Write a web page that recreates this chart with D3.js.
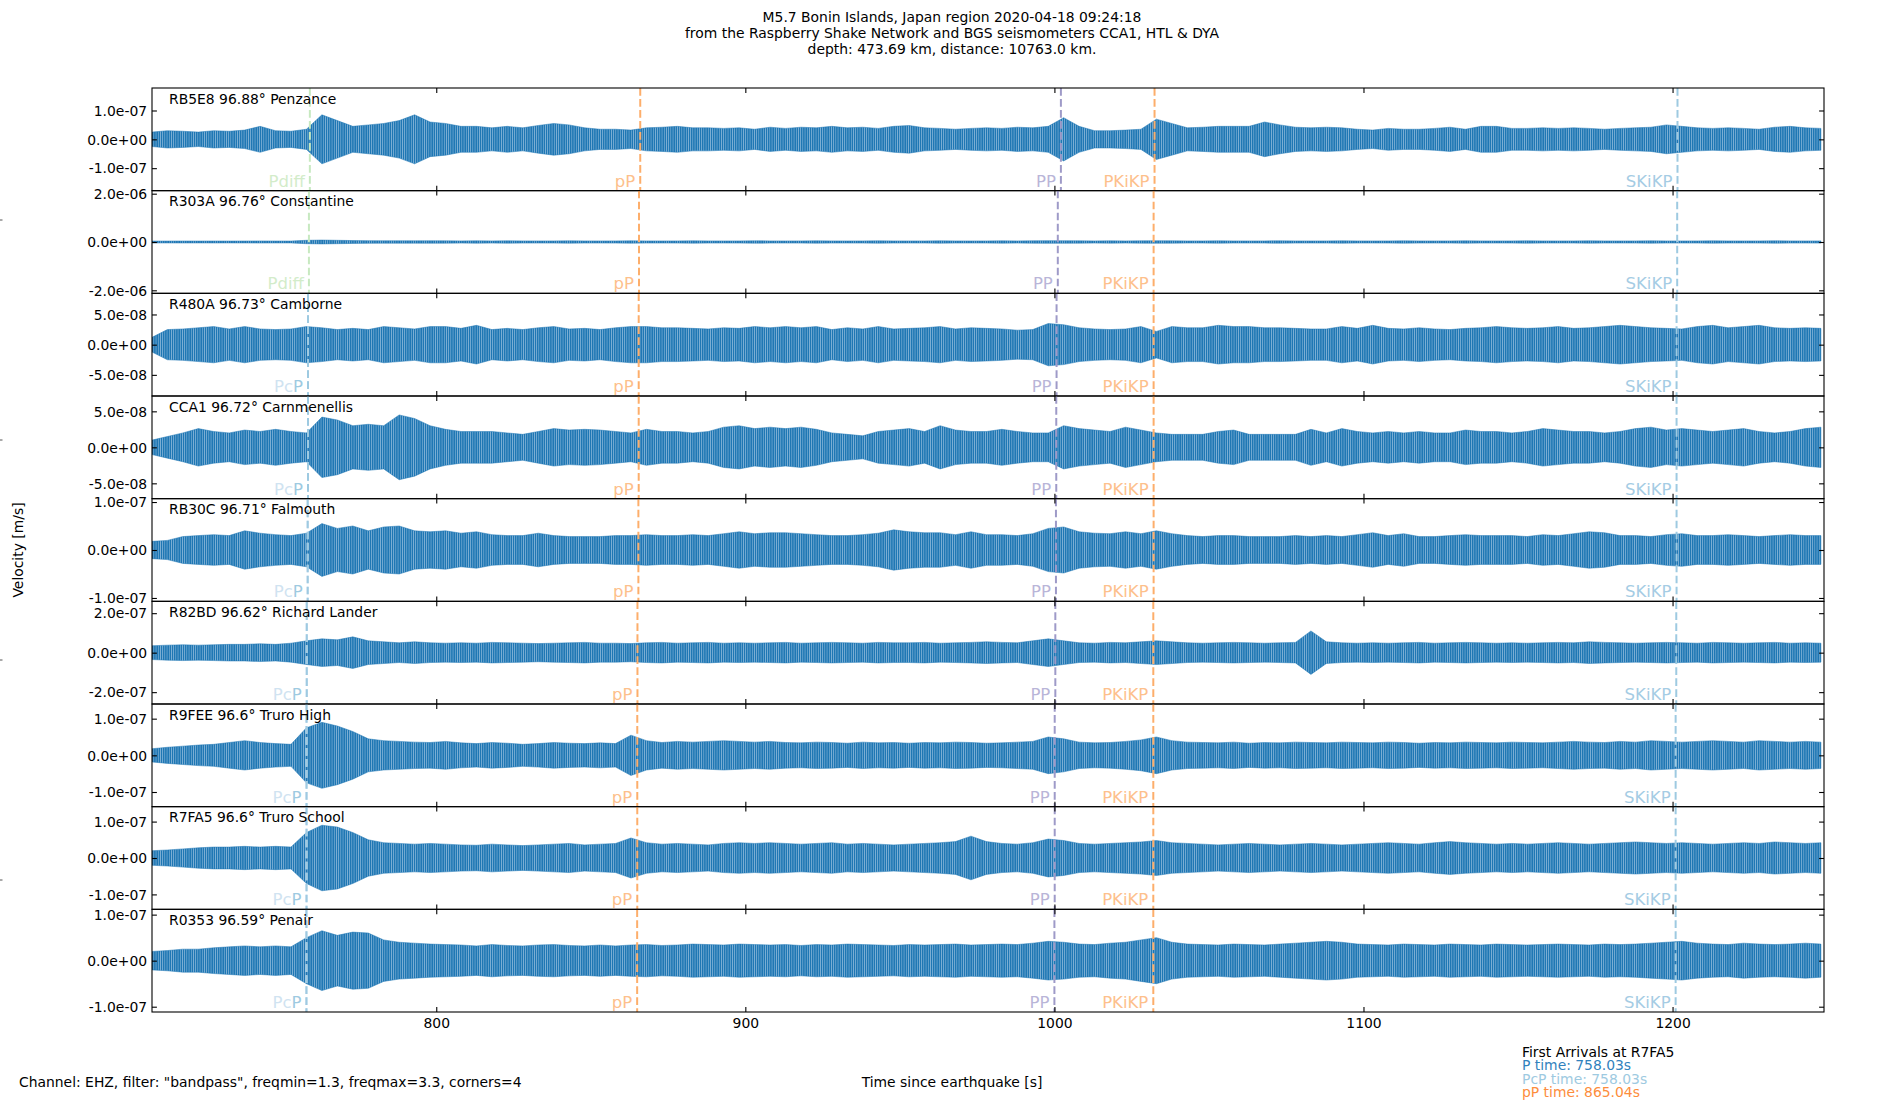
<!DOCTYPE html>
<html>
<head>
<meta charset="utf-8">
<script src="https://cdn.jsdelivr.net/npm/d3@7"></script>
<style>
  body { margin: 0; background: #fff; }
  svg text { font-family: "DejaVu Sans", sans-serif; }
</style>
</head>
<body>
<svg id="chart"></svg>
<script>
const WIDTH = 1900;
const HEIGHT = 1100;
const MARGIN = { left: 152, right: 76, top: 88, bottom: 88 };
const WAVE_COLOR = '#1f77b4';
const TICK = 4.9;

// Time axis (s since origin) and envelope sampling of the traces
const X_RANGE = [708.03, 1249.0];
const X_TICKS = [800, 900, 1000, 1100, 1200];
const ENV_START = 708;
const ENV_STEP = 5;

const stations = ['RB5E8', 'R303A', 'R480A', 'CCA1', 'RB30C', 'R82BD', 'R9FEE', 'R7FA5', 'R0353'];
const distances = ['96.88', '96.76', '96.73', '96.72', '96.71', '96.62', '96.6', '96.6', '96.59'];
const places = ['Penzance', 'Constantine', 'Camborne', 'Carnmenellis', 'Falmouth', 'Richard Lander', 'Truro High', 'Truro School', 'Penair'];

// y limits (m/s, symmetric) and y ticks per trace
const yLimits = [1.78e-7, 2.125e-6, 8.5e-8, 7.13e-8, 1.07e-7, 2.6e-7, 1.4e-7, 1.41e-7, 1.115e-7];
const yTicks = [
  [-1e-7, 0, 1e-7], [-2e-6, 0, 2e-6], [-5e-8, 0, 5e-8], [-5e-8, 0, 5e-8], [-1e-7, 0, 1e-7],
  [-2e-7, 0, 2e-7], [-1e-7, 0, 1e-7], [-1e-7, 0, 1e-7], [-1e-7, 0, 1e-7]
];

// Peak amplitude envelope of each trace, nm/s, one value per 5 s from 708 s
const envRB5E8 = [25,30,28,25,30,28,32,45,30,28, 35,85,65,45,50,55,65,85,60,55, 45,45,40,45,40,48,55,50,40,35,
  35,32,40,42,45,40,40,38,40,35, 42,38,42,40,45,40,42,38,45,48, 40,38,35,38,40,38,42,40,
  45,75,45,30,30,32,35,70,55,40, 42,45,45,45,60,50,42,40,42,40,35, 32,38,35,35,38,42,35,45,45,38,
  38,40,38,40,38,35,38,40,42,50, 45,40,38,40,38,35,42,45,40,38];
const envR303A = [40,40,42,40,42,40,42,44,42,40, 70,80,70,60,55,50,50,48,50,48, 46,48,46,48,46,45,46,48,46,45,
  46,48,46,45,46,48,46,45,46,48, 46,45,46,48,46,45,46,48,46,45, 46,48,46,45,46,48,46,50,
  55,52,48,46,48,46,48,52,48,46, 46,48,46,45,46,48,46,45,46,48,46, 45,46,48,46,45,46,48,46,45,46,
  48,46,45,46,48,46,45,46,48,46, 45,46,48,46,45,46,48,46,45,46];
const envR480A = [12,25,26,28,30,26,30,26,25,26, 30,28,25,27,25,30,28,26,30,30, 27,32,25,27,25,28,30,26,27,25,
  28,30,30,28,28,27,26,28,27,30, 28,30,28,30,25,28,26,30,26,27, 28,30,26,28,27,26,24,25,
  35,33,28,26,25,26,30,22,30,28, 28,32,30,30,28,28,27,26,26,30,27, 32,27,26,28,26,25,27,28,30,28,
  27,28,30,27,28,30,32,30,28,27, 26,30,32,28,30,32,28,27,28,27];
const envCCA1 = [10,15,20,26,22,20,24,22,25,22, 20,42,38,30,32,30,45,40,30,25, 22,22,22,20,18,22,26,24,25,24,
  22,20,25,22,22,20,22,28,30,26, 28,26,28,25,20,18,16,22,24,26, 22,30,24,22,22,25,22,20,
  20,30,26,24,22,28,24,20,18,18, 18,22,24,18,18,18,18,25,20,26,22, 20,22,20,22,20,20,24,22,22,20,
  22,26,24,22,22,20,22,26,28,24, 26,24,22,24,26,22,20,22,26,28];
const envRB30C = [18,20,28,30,32,30,40,35,32,30, 35,55,45,50,40,48,50,40,38,40, 35,38,32,30,30,35,30,28,28,28,
  30,30,32,30,30,32,30,34,38,34, 36,36,34,32,30,30,32,35,42,38, 36,36,32,38,32,32,30,34,
  45,48,38,35,34,38,34,40,34,30, 28,30,30,28,28,28,30,28,30,28,32, 36,30,34,28,28,30,32,30,30,30,
  28,32,30,34,38,36,30,30,28,32, 34,30,30,32,30,28,30,32,30,30];
const envR82BD = [35,38,40,38,40,42,42,45,42,48, 60,70,65,80,60,55,50,55,50,48, 50,48,52,50,48,46,48,50,52,48,
  48,46,50,52,48,50,52,48,50, 48,50,52,48,50,52,50,48,52,50, 50,52,48,50,52,55,52,50,60,
  70,60,50,48,52,50,55,60,55,50, 48,50,52,50,48,50,52, 110,55,50,48,
  50,48,50,52,48,50,52,50,48,50, 48,50,52,50,55,52,50,48,50,52, 50,48,52,50,48,50,52,48,50,48];
const envR9FEE = [18,22,25,28,30,35,40,35,32,30, 75,90,80,65,45,40,38,36,35,38, 34,32,35,33,30,32,35,33,32,34,
  32,55,40,35,38,36,38,40,38,36, 38,35,34,36,35,33,36,34,35,33, 35,34,36,35,33,34,36,38,
  50,45,36,34,35,38,42,50,40,36, 35,34,36,33,35,34,36,35,34,36,35, 34,36,35,33,35,34,36,35,34,36,
  35,34,36,38,36,35,38,36,40,38, 36,38,40,38,36,40,38,36,38,36];
const envR7FA5 = [20,22,25,28,30,30,32,30,32,30, 70,90,85,70,50,42,40,38,40,38, 36,35,38,36,34,36,38,40,36,38,
  40,55,42,38,40,38,36,40,42,40, 42,40,38,40,42,38,40,38,36,38, 40,42,45,60,45,40,38,42,
  52,48,40,38,40,42,44,48,42,40, 38,36,38,40,38,36,38,40,38,36,38, 40,42,40,38,42,45,42,40,38,40,
  38,40,42,40,38,40,42,44,42,40, 42,40,38,40,42,40,44,42,40,42];
const envR0353 = [20,22,25,25,28,30,32,30,32,30, 50,65,55,62,60,45,40,38,36,35, 34,32,35,33,32,34,35,33,32,34,
  32,34,35,33,34,36,35,34,36,35, 34,35,33,35,34,36,35,34,33,35, 34,35,36,34,35,36,35,38,
  42,40,36,35,38,40,45,50,40,36, 35,34,36,35,34,36,38,40,42,40,36, 35,34,36,35,34,36,35,34,36,35,
  34,35,36,35,34,36,35,36,38,40, 42,38,36,35,38,36,35,36,38,36];
const envelopes = [envRB5E8, envR303A, envR480A, envCCA1, envRB30C, envR82BD, envR9FEE, envR7FA5, envR0353];

// Theoretical arrival times (s) per trace, null where the phase is not marked
const pdiffTimes = [759.1, 758.8, null, null, null, null, null, null, null];
const pTimes = [null, null, 758.5, 758.5, 758.4, 758.1, 758.03, 758.03, 758.0];
const pcpTimes = [null, null, 758.5, 758.5, 758.4, 758.1, 758.03, 758.03, 758.0];
const ppTimes = [866.0, 865.6, 865.5, 865.5, 865.4, 865.1, 865.04, 865.04, 865.0];
const bigPPTimes = [1002.1, 1001.1, 1000.7, 1000.6, 1000.5, 1000.3, 1000.1, 1000.1, 1000.0];
const pkikpTimes = [1032.4, 1032.1, 1032.1, 1032.1, 1032.1, 1032.0, 1032.0, 1032.0, 1032.0];
const skikpTimes = [1201.6, 1201.5, 1201.3, 1201.3, 1201.3, 1201.2, 1201.0, 1201.0, 1201.0];

const titleLines = [
  'M5.7 Bonin Islands, Japan region 2020-04-18 09:24:18',
  'from the Raspberry Shake Network and BGS seismometers CCA1, HTL & DYA',
  'depth: 473.69 km, distance: 10763.0 km.'
];
const arrivalLines = ['First Arrivals at R7FA5', 'P time: 758.03s', 'PcP time: 758.03s', 'pP time: 865.04s'];

const PHASES = {
  Pdiff: { times: pdiffTimes, line: '#c7e9c0', label: '#d3ecca' },
  PcP: { times: pcpTimes, line: '#c6dbef', label: '#d0e3f1' },
  P: { times: pTimes, line: '#9ecae1', label: '#9ecae1' },
  pP: { times: ppTimes, line: '#fdae6b', label: '#fdc08c' },
  PP: { times: bigPPTimes, line: '#9e9ac8', label: '#b9b5d8' },
  PKiKP: { times: pkikpTimes, line: '#fdae6b', label: '#fdc08c' },
  SKiKP: { times: skikpTimes, line: '#9ecae1', label: '#a5cce4' }
};
const ARRIVAL_COLORS = ['#000', '#3182bd', '#9ecae1', '#fd8d3c'];

const svg = d3.select('#chart')
  .attr('width', WIDTH)
  .attr('height', HEIGHT);

const plotW = WIDTH - MARGIN.left - MARGIN.right;
const plotH = HEIGHT - MARGIN.top - MARGIN.bottom;
const panelH = plotH / stations.length;

const x = d3.scaleLinear().domain(X_RANGE).range([0, plotW]);

// matplotlib style '%.1e' labels
const sci = v => v.toExponential(1).replace(/e([+-])(\d)$/, 'e$10$2');

const defs = svg.append('defs');
defs.append('clipPath')
  .attr('id', 'panel-clip')
  .append('rect')
  .attr('width', plotW)
  .attr('height', panelH);

// Dense trace look: thin vertical strokes inside the envelope
const pattern = defs.append('pattern')
  .attr('id', 'trace-fill')
  .attr('patternUnits', 'userSpaceOnUse')
  .attr('width', 2.2)
  .attr('height', 4);
pattern.append('rect').attr('width', 1.6).attr('height', 4).attr('fill', WAVE_COLOR);
pattern.append('rect').attr('x', 1.6).attr('width', 0.6).attr('height', 4)
  .attr('fill', WAVE_COLOR).attr('opacity', 0.55);

stations.forEach((code, i) => {
  const g = svg.append('g')
    .attr('transform', `translate(${MARGIN.left},${MARGIN.top + i * panelH})`);

  const y = d3.scaleLinear()
    .domain([-yLimits[i], yLimits[i]])
    .range([panelH, 0]);

  // Trace envelope
  const area = d3.area()
    .x((d, j) => x(ENV_START + j * ENV_STEP))
    .y0(d => y(-d * 1e-9))
    .y1(d => y(d * 1e-9));

  const plot = g.append('g').attr('clip-path', 'url(#panel-clip)');

  plot.append('path')
    .datum(envelopes[i])
    .attr('fill', 'url(#trace-fill)')
    .attr('stroke', WAVE_COLOR)
    .attr('stroke-width', 0.5)
    .attr('stroke-linejoin', 'round')
    .attr('d', area);

  // Phase arrivals
  const marked = Object.keys(PHASES).filter(name => PHASES[name].times[i] !== null);
  marked.forEach((name) => {
    const t = PHASES[name].times[i];
    plot.append('line')
      .attr('x1', x(t)).attr('x2', x(t))
      .attr('y1', 0).attr('y2', panelH)
      .attr('stroke', PHASES[name].line)
      .attr('stroke-width', 2)
      .attr('stroke-dasharray', '7.7,3.3');
  });

  marked.filter(name => name !== 'P').forEach((name) => {
    const t = PHASES[name].times[i];
    const label = g.append('text')
      .attr('x', x(t) - 5)
      .attr('y', panelH - 4)
      .attr('text-anchor', 'end')
      .attr('font-size', 16.5)
      .attr('fill', PHASES[name].label);
    if (name === 'PcP' && marked.includes('P')) {
      // P and PcP share the same arrival: the P label sits on the last letter
      label.append('tspan').text('Pc');
      label.append('tspan').attr('fill', PHASES.P.label).text('P');
    } else {
      label.text(name);
    }
  });

  // Axes, ticks pointing inward on all four sides
  const isLast = i === stations.length - 1;
  const xb = g.append('g')
    .attr('transform', `translate(0,${panelH})`)
    .call(d3.axisBottom(x).tickValues(X_TICKS).tickSize(-TICK).tickPadding(6)
      .tickFormat(isLast ? d3.format('d') : ''));
  const xt = g.append('g')
    .call(d3.axisTop(x).tickValues(X_TICKS).tickSize(-TICK).tickFormat(''));
  const yl = g.append('g')
    .call(d3.axisLeft(y).tickValues(yTicks[i]).tickSize(-TICK).tickPadding(TICK).tickFormat(sci));
  const yr = g.append('g')
    .attr('transform', `translate(${plotW},0)`)
    .call(d3.axisRight(y).tickValues(yTicks[i]).tickSize(-TICK).tickFormat(''));

  [xb, xt, yl, yr].forEach((a) => {
    a.select('.domain').remove();
    a.selectAll('line').attr('stroke', '#000').attr('stroke-width', 1.1);
    a.selectAll('text').attr('font-size', 13.9).attr('fill', '#000')
      .attr('font-family', '"DejaVu Sans", sans-serif');
  });
  yl.selectAll('text').attr('dy', '0.34em');

  g.append('rect')
    .attr('width', plotW)
    .attr('height', panelH)
    .attr('fill', 'none')
    .attr('stroke', '#000')
    .attr('stroke-width', 1.1);

  g.append('text')
    .attr('x', 17)
    .attr('y', 15.8)
    .attr('font-size', 13.9)
    .text(`${code} ${distances[i]}° ${places[i]}`);
});

// Figure texts
svg.selectAll('.title')
  .data(titleLines)
  .enter()
  .append('text')
  .attr('class', 'title')
  .attr('x', 952)
  .attr('y', (d, k) => 22 + k * 16.2)
  .attr('text-anchor', 'middle')
  .attr('font-size', 13.9)
  .text(d => d);

svg.append('text')
  .attr('transform', 'translate(18,550) rotate(-90)')
  .attr('text-anchor', 'middle')
  .attr('dy', '0.35em')
  .attr('font-size', 13.9)
  .text('Velocity [m/s]');

svg.append('text')
  .attr('x', 952)
  .attr('y', 1087)
  .attr('text-anchor', 'middle')
  .attr('font-size', 13.9)
  .text('Time since earthquake [s]');

svg.append('text')
  .attr('x', 19)
  .attr('y', 1087)
  .attr('font-size', 13.9)
  .text('Channel: EHZ, filter: "bandpass", freqmin=1.3, freqmax=3.3, corners=4');

svg.selectAll('.arrival')
  .data(arrivalLines)
  .enter()
  .append('text')
  .attr('class', 'arrival')
  .attr('x', 1522)
  .attr('y', (d, k) => 1057 + k * 13.4)
  .attr('font-size', 13.9)
  .attr('fill', (d, k) => ARRIVAL_COLORS[k])
  .text(d => d);

// Stray ticks of the figure-wide label axes at the left edge
svg.selectAll('.edge-tick')
  .data([0.2, 0.4, 0.6, 0.8])
  .enter()
  .append('line')
  .attr('x1', 0).attr('x2', 2.5)
  .attr('y1', d => d * HEIGHT).attr('y2', d => d * HEIGHT)
  .attr('stroke', '#555')
  .attr('stroke-width', 1);
</script>
</body>
</html>
